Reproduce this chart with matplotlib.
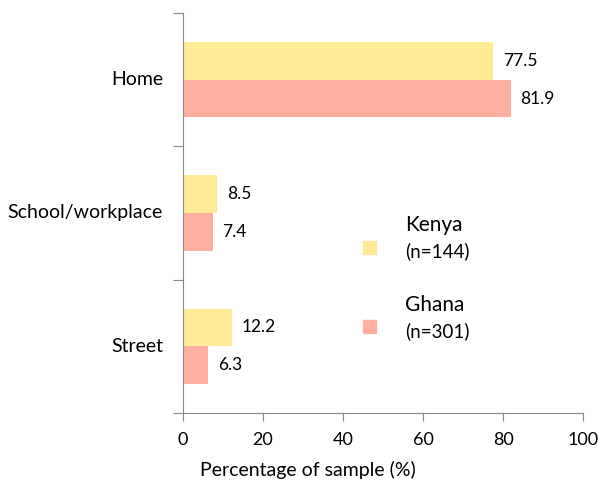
import matplotlib
matplotlib.use("Agg")
import matplotlib.pyplot as plt
from matplotlib.patches import Rectangle
import numpy as np

categories = ["Home", "School/workplace", "Street"]
kenya = [77.5, 8.5, 12.2]
ghana = [81.9, 7.4, 6.3]
series_names = ["Kenya", "Ghana"]
series_n = ["(n=144)", "(n=301)"]
xticks = [0, 20, 40, 60, 80, 100]

plt.rcParams['font.family'] = ['Lato', 'DejaVu Sans']

W, H = 598, 486
fig = plt.figure(figsize=(W/100, H/100), dpi=100)
ax = fig.add_axes([183/W, 1-413/H, 400/W, 400/H])

c_k = "#FFEA96"
c_g = "#FFAFA0"
n = len(categories)
pos = np.arange(n)[::-1] + 0.5  # Home at top
bh = 38/134
ax.barh(pos + bh/2, kenya, height=bh, color=c_k)
ax.barh(pos - bh/2, ghana, height=bh, color=c_g)

for p, v in zip(pos + bh/2, kenya):
    ax.text(v + 2.5, p, f"{v:.1f}", va="center", ha="left", fontsize=12.5)
for p, v in zip(pos - bh/2, ghana):
    ax.text(v + 2.5, p, f"{v:.1f}", va="center", ha="left", fontsize=12.5)

ax.set_xlim(0, 100)
ax.set_ylim(0, n)
ax.set_xticks(xticks)
ax.set_xticklabels([str(t) for t in xticks], fontsize=13)
ax.tick_params(axis='x', length=6, color="#888888", pad=8)
ax.set_yticks(np.arange(n+1))
ax.set_yticklabels([])
ax.tick_params(axis='y', length=7, color="#888888")
for p, c in zip(pos, categories):
    ax.text(-20/400, p, c, transform=ax.get_yaxis_transform(), ha="right", va="center", fontsize=14)
for sp in ["top", "right"]:
    ax.spines[sp].set_visible(False)
for sp in ["left", "bottom"]:
    ax.spines[sp].set_color("#888888")

fig.text(200/W, 1-470/H, "Percentage of sample (%)", ha="left", va="center", fontsize=14)

# legend (manual, figure pixel positions)
for name, nn, col, ysq, yt in [(series_names[0], series_n[0], c_k, 247.5, 225),
                               (series_names[1], series_n[1], c_g, 326.5, 305)]:
    fig.patches.append(Rectangle((363/W, 1-(ysq+6.5)/H), 13/W, 13/H, transform=fig.transFigure,
                                 color=col, figure=fig))
    fig.text(405/W, 1-yt/H, name, ha="left", va="center", fontsize=15)
    fig.text(405/W, 1-(yt+26)/H, nn, ha="left", va="center", fontsize=13.5)

fig.savefig("out.png", dpi=100)
